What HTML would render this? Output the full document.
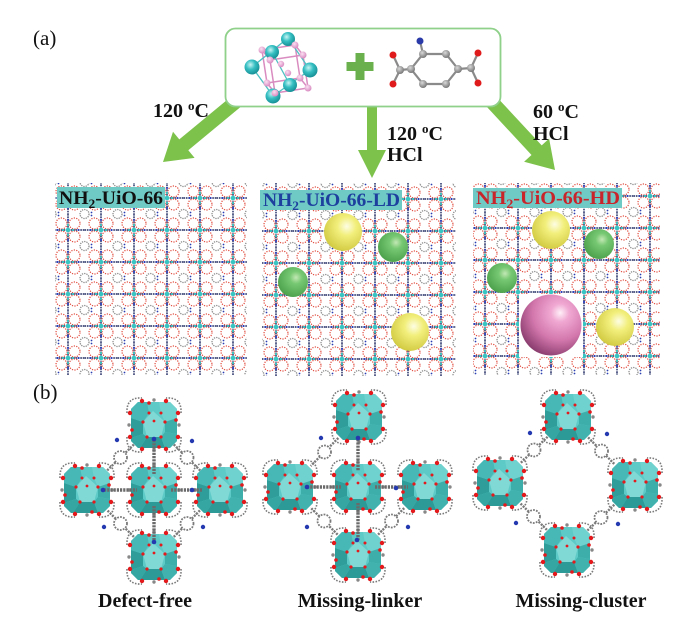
<!DOCTYPE html>
<html><head><meta charset="utf-8"><style>html,body{margin:0;padding:0;background:#fff}svg{display:block}</style></head>
<body>
<svg width="700" height="626" viewBox="0 0 700 626" xmlns="http://www.w3.org/2000/svg" font-family="'Liberation Serif', serif">
<defs>
 <pattern id="lat" width="33" height="32" patternUnits="userSpaceOnUse">
   <g fill="none" stroke="#8c8c8c" stroke-width="1.3" stroke-dasharray="1.3 1">
     <circle cx="0" cy="0" r="4.5"/><circle cx="33" cy="0" r="4.5"/><circle cx="0" cy="32" r="4.5"/><circle cx="33" cy="32" r="4.5"/>
   </g>
   <g fill="#2b3fb0">
     <circle cx="7" cy="1.5" r="0.9"/><circle cx="7" cy="30.5" r="0.9"/><circle cx="8" cy="-1.5" r="0.9"/><circle cx="8" cy="33.5" r="0.9"/>
   </g>
   <g fill="none" stroke="#e0473a" stroke-width="1.2" stroke-dasharray="1.2 1.3">
     <circle cx="10" cy="9.5" r="5.5"/><circle cx="23" cy="9.5" r="5.5"/><circle cx="10" cy="22.5" r="5.5"/><circle cx="23" cy="22.5" r="5.5"/>
   </g>
   <g stroke="#414a7a" stroke-width="1.7" stroke-dasharray="1.6 0.8">
     <line x1="0" y1="16" x2="33" y2="16"/><line x1="16.5" y1="0" x2="16.5" y2="32"/>
   </g>
   <g fill="#2438c0"><circle cx="6" cy="16" r="1"/><circle cx="27" cy="16" r="1"/><circle cx="16.5" cy="6" r="1"/><circle cx="16.5" cy="26" r="1"/></g>
   <circle cx="16.5" cy="16" r="2.3" fill="#38c6c2"/>
   <g fill="#38c6c2"><circle cx="11.5" cy="16" r="1.1"/><circle cx="21.5" cy="16" r="1.1"/><circle cx="16.5" cy="11" r="1.1"/><circle cx="16.5" cy="21" r="1.1"/></g>
 </pattern>
 <radialGradient id="gy" cx="0.6" cy="0.35" r="0.7"><stop offset="0" stop-color="#fdfde4"/><stop offset="0.35" stop-color="#f2ef7c"/><stop offset="1" stop-color="#cfc83e"/></radialGradient>
 <radialGradient id="gg" cx="0.6" cy="0.35" r="0.7"><stop offset="0" stop-color="#c2e8b4"/><stop offset="0.3" stop-color="#77c872"/><stop offset="1" stop-color="#4a9f4a"/></radialGradient>
 <radialGradient id="gp" cx="0.65" cy="0.3" r="0.75"><stop offset="0" stop-color="#fff0f8"/><stop offset="0.2" stop-color="#f0a8d2"/><stop offset="0.6" stop-color="#d377ad"/><stop offset="1" stop-color="#8a3c6e"/></radialGradient>
 <radialGradient id="gc" cx="0.4" cy="0.35" r="0.7"><stop offset="0" stop-color="#c8f4f4"/><stop offset="0.45" stop-color="#35bfc2"/><stop offset="1" stop-color="#138a90"/></radialGradient>
 <radialGradient id="gpk" cx="0.4" cy="0.35" r="0.7"><stop offset="0" stop-color="#fbe0f2"/><stop offset="1" stop-color="#d584bd"/></radialGradient>
 <radialGradient id="ggr" cx="0.4" cy="0.35" r="0.7"><stop offset="0" stop-color="#d8d8d8"/><stop offset="1" stop-color="#707070"/></radialGradient>
 <g id="cl">
  <path d="M-16,-23H16L23,-16V16L16,23H-16L-23,16V-16Z" fill="#5ecac7"/>
  <path d="M5,-23L16,-23L23,-16L23,-7L11,-3L7,-12Z" fill="#70d2ce"/>
  <path d="M-23,-7L-11,-3L-11,9L-23,13Z" fill="#2f9e9b"/>
  <path d="M-23,13L-11,9L-7,12L-14,23L-16,23L-23,16Z" fill="#36a6a3"/>
  <path d="M-7,12L7,12L11,23L-14,23Z" fill="#2c9a97"/>
  <path d="M11,-3L23,-7L23,9L11,7Z" fill="#3eaeab"/>
  <path d="M-16,-23L-7,-23L-5,-12L-11,-3L-23,-7L-23,-16Z" fill="#47b8b5"/>
  <path d="M7,12L11,7L23,9L23,16L16,23L11,23Z" fill="#42b2af"/>
  <path d="M-1,-14L11,-3L7,12L-7,12L-11,-3Z" fill="#80d9d5"/>
  <g fill="none" stroke="#7a7a7a" stroke-width="1.6" stroke-dasharray="1.6 1.4">
   <path d="M-27,-12Q-28,-28 -12,-27"/><path d="M27,-12Q28,-28 12,-27"/><path d="M-27,12Q-28,28 -12,27"/><path d="M27,12Q28,28 12,27"/>
  </g>
  <g fill="#888"><circle cx="0" cy="-25" r="1.7"/><circle cx="0" cy="25" r="1.7"/><circle cx="-25" cy="0" r="1.7"/><circle cx="25" cy="0" r="1.7"/></g>
  <g fill="#e3191c">
   <circle cx="-12" cy="-24" r="2.2"/><circle cx="12" cy="-24" r="2.2"/><circle cx="-12" cy="24" r="2.2"/><circle cx="12" cy="24" r="2.2"/>
   <circle cx="-24" cy="-12" r="2.2"/><circle cx="-24" cy="12" r="2.2"/><circle cx="24" cy="-12" r="2.2"/><circle cx="24" cy="12" r="2.2"/>
   <circle cx="-5" cy="-22" r="1.8"/><circle cx="5" cy="22" r="1.8"/><circle cx="-22" cy="5" r="1.8"/><circle cx="22" cy="-5" r="1.8"/>
   <circle cx="-11" cy="-3" r="1.6"/><circle cx="11" cy="-3" r="1.6"/><circle cx="-7" cy="12" r="1.6"/><circle cx="7" cy="12" r="1.6"/>
   <circle cx="-5" cy="-12" r="1.5"/><circle cx="7" cy="-12" r="1.5"/><circle cx="0" cy="-4" r="1.4"/>
  </g>
 </g>
</defs>

<!-- (a) -->
<text x="33" y="45" font-size="21" fill="#111">(a)</text>

<!-- arrows -->
<g fill="#7dc24b">
 <polygon points="242.5,105.4 233.5,94.6 179.3,139.4 173,131.7 163,162 194.6,157.9 188.3,150.2"/>
 <polygon points="367,100 377,100 377,150 386,150 372,178 358,150 367,150"/>
 <polygon points="484.9,104.8 495.1,95.2 541.7,145.4 549.1,138.6 555,170 524.1,161.8 531.5,155"/>
</g>

<!-- top box -->
<rect x="225.5" y="28.5" width="275" height="78" rx="10" fill="#fff" stroke="#8fd08a" stroke-width="1.8"/>

<!-- Zr cluster molecule -->
<g stroke="#d98cc0" stroke-width="1.5" fill="none">
 <polygon points="262,50 295,45 300,78 267,83"/>
 <polygon points="270,60 303,55 308,88 275,93"/>
 <line x1="262" y1="50" x2="270" y2="60"/><line x1="295" y1="45" x2="303" y2="55"/><line x1="300" y1="78" x2="308" y2="88"/><line x1="267" y1="83" x2="275" y2="93"/>
</g>
<g stroke="#4cc0c2" stroke-width="1.3">
 <line x1="288" y1="38" x2="252" y2="67"/><line x1="288" y1="38" x2="310" y2="70"/><line x1="252" y1="67" x2="273" y2="96"/><line x1="310" y1="70" x2="273" y2="96"/><line x1="272" y1="52" x2="290" y2="85"/>
</g>
<g fill="url(#gc)">
 <circle cx="288" cy="39" r="7"/><circle cx="272" cy="52" r="7"/><circle cx="252" cy="67" r="7.5"/><circle cx="310" cy="70" r="7.5"/><circle cx="290" cy="85" r="7"/><circle cx="273" cy="96" r="7.5"/>
</g>
<g fill="url(#gpk)">
 <circle cx="262" cy="50" r="3.5"/><circle cx="295" cy="45" r="3.5"/><circle cx="300" cy="78" r="3.5"/><circle cx="267" cy="83" r="3.5"/>
 <circle cx="270" cy="60" r="3.5"/><circle cx="303" cy="55" r="3.5"/><circle cx="308" cy="88" r="3.5"/><circle cx="275" cy="93" r="3.5"/>
 <circle cx="281" cy="64" r="3.2"/><circle cx="288" cy="73" r="3.2"/>
</g>

<!-- plus -->
<g fill="#6ab04c"><rect x="355.5" y="53" width="9" height="27"/><rect x="346.5" y="62" width="27" height="9"/></g>

<!-- linker molecule -->
<g stroke="#8a8a8a" stroke-width="2.2" fill="none">
 <polygon points="423,54 446,54 458,69 446,84 423,84 411,69"/>
 <line x1="411" y1="69" x2="400" y2="70"/><line x1="400" y1="70" x2="393" y2="55"/><line x1="400" y1="70" x2="393" y2="84"/>
 <line x1="458" y1="69" x2="471" y2="68"/><line x1="471" y1="68" x2="478" y2="53"/><line x1="471" y1="68" x2="478" y2="83"/>
 <line x1="423" y1="54" x2="420" y2="41"/>
</g>
<g fill="url(#ggr)">
 <circle cx="423" cy="54" r="4"/><circle cx="446" cy="54" r="4"/><circle cx="458" cy="69" r="4"/><circle cx="446" cy="84" r="4"/><circle cx="423" cy="84" r="4"/><circle cx="411" cy="69" r="4"/>
 <circle cx="400" cy="70" r="4"/><circle cx="471" cy="68" r="4"/>
</g>
<g fill="#e01b1b"><circle cx="393" cy="55" r="3.5"/><circle cx="393" cy="84" r="3.5"/><circle cx="478" cy="53" r="3.5"/><circle cx="478" cy="83" r="3.5"/></g>
<circle cx="420" cy="41" r="3.5" fill="#2a3aa8"/>

<!-- arrow labels -->
<g font-weight="bold" font-size="20" fill="#111">
 <text x="153" y="117">120 <tspan font-size="13" dy="-7">o</tspan><tspan dy="7">C</tspan></text>
 <text x="387" y="140">120 <tspan font-size="13" dy="-7">o</tspan><tspan dy="7">C</tspan></text>
 <text x="387" y="161">HCl</text>
 <text x="533" y="118">60 <tspan font-size="13" dy="-7">o</tspan><tspan dy="7">C</tspan></text>
 <text x="533" y="140">HCl</text>
</g>

<!-- lattice panels -->
<g transform="translate(51.5,182)"><rect x="3.5" y="1" width="192" height="192" fill="url(#lat)"/></g>
<g transform="translate(259.5,183)"><rect x="2.5" y="0" width="194" height="193" fill="url(#lat)"/></g>
<g transform="translate(468.5,180)"><rect x="4.5" y="3" width="187" height="192" fill="url(#lat)"/></g>

<!-- spheres panel 2 -->
<circle cx="343" cy="232" r="19" fill="url(#gy)"/>
<circle cx="393" cy="247" r="15" fill="url(#gg)"/>
<circle cx="293" cy="282" r="15" fill="url(#gg)"/>
<circle cx="410" cy="332" r="19" fill="url(#gy)"/>
<!-- spheres panel 3 -->
<circle cx="551" cy="230" r="19" fill="url(#gy)"/>
<circle cx="599" cy="244" r="15" fill="url(#gg)"/>
<circle cx="502" cy="278" r="15" fill="url(#gg)"/>
<rect x="519" y="294" width="64" height="63" fill="#fff"/>
<circle cx="551" cy="325" r="30.5" fill="url(#gp)"/>
<circle cx="615" cy="327" r="19" fill="url(#gy)"/>

<!-- panel labels -->
<rect x="57" y="187" width="108" height="21" fill="#6fcac6"/>
<rect x="260" y="190" width="142" height="20" fill="#6fcac6"/>
<rect x="473" y="188" width="149" height="20" fill="#6fcac6"/>
<g font-weight="bold" font-size="19">
 <text x="59" y="204" fill="#111" textLength="104" lengthAdjust="spacingAndGlyphs">NH<tspan font-size="13" dy="4">2</tspan><tspan dy="-4">-UiO-66</tspan></text>
 <text x="263" y="206" fill="#1d3f9e" textLength="137" lengthAdjust="spacingAndGlyphs">NH<tspan font-size="13" dy="4">2</tspan><tspan dy="-4">-UiO-66-LD</tspan></text>
 <text x="476" y="204" fill="#c8242a" textLength="144" lengthAdjust="spacingAndGlyphs">NH<tspan font-size="13" dy="4">2</tspan><tspan dy="-4">-UiO-66-HD</tspan></text>
</g>

<!-- (b) -->
<text x="33" y="399" font-size="21" fill="#111">(b)</text>

<!-- diagonal linkers -->
<g stroke="#7a7a7a" stroke-width="2.4" stroke-dasharray="2 1.2" fill="none">
 <line x1="133.9" y1="444.5" x2="107.1" y2="470.5"/>
 <line x1="173.8" y1="444.5" x2="200.2" y2="470.5"/>
 <line x1="133.9" y1="536.9" x2="107.1" y2="510.1"/>
 <line x1="173.8" y1="536.9" x2="200.2" y2="510.1"/>
 <line x1="338.3" y1="438" x2="310.7" y2="466"/>
 <line x1="337.6" y1="534.6" x2="310.4" y2="507.4"/>
 <line x1="378.1" y1="534.6" x2="404.9" y2="507.4"/>
 <line x1="547.6" y1="436.8" x2="520.4" y2="463.2"/>
 <line x1="588.1" y1="437.4" x2="614.9" y2="464.6"/>
 <line x1="546.9" y1="529.9" x2="520.1" y2="503.1"/>
 <line x1="587.4" y1="530.5" x2="614.6" y2="504.5"/>
</g>
<g fill="#fff" stroke="#7a7a7a" stroke-width="1.8" stroke-dasharray="1.8 1.2">
 <circle cx="120.5" cy="457.5" r="6.5"/><circle cx="187" cy="457.5" r="6.5"/><circle cx="120.5" cy="523.5" r="6.5"/><circle cx="187" cy="523.5" r="6.5"/>
 <circle cx="324.5" cy="452" r="6.5"/><circle cx="324" cy="521" r="6.5"/><circle cx="391.5" cy="521" r="6.5"/>
 <circle cx="534" cy="450" r="6.5"/><circle cx="601.5" cy="451" r="6.5"/><circle cx="533.5" cy="516.5" r="6.5"/><circle cx="601" cy="517.5" r="6.5"/>
</g>
<g fill="#2438b0">
 <circle cx="117" cy="440" r="2.2"/><circle cx="192" cy="441" r="2.2"/><circle cx="104" cy="527" r="2.2"/><circle cx="203" cy="527" r="2.2"/>
 <circle cx="321" cy="438" r="2.2"/><circle cx="307" cy="527" r="2.2"/><circle cx="408" cy="527" r="2.2"/>
 <circle cx="530" cy="433" r="2.2"/><circle cx="607" cy="434" r="2.2"/><circle cx="516" cy="523" r="2.2"/><circle cx="618" cy="524" r="2.2"/>
</g>

<!-- clusters -->
<use href="#cl" x="154" y="425"/><use href="#cl" x="87" y="490"/><use href="#cl" x="154" y="490"/><use href="#cl" x="220" y="490"/><use href="#cl" x="154" y="557"/>
<use href="#cl" x="359" y="417"/><use href="#cl" x="290" y="487"/><use href="#cl" x="358" y="487"/><use href="#cl" x="425" y="487"/><use href="#cl" x="358" y="555"/>
<use href="#cl" x="568" y="417"/><use href="#cl" x="500" y="483"/><use href="#cl" x="635" y="485"/><use href="#cl" x="567" y="550"/>

<!-- straight linkers -->
<g stroke="#6a6a6a" stroke-width="3.4" stroke-dasharray="2.2 1">
 <line x1="104" y1="490" x2="137" y2="490"/><line x1="171" y1="490" x2="203" y2="490"/>
 <line x1="154" y1="440" x2="154" y2="474"/><line x1="154" y1="506" x2="154" y2="541"/>
 <line x1="307" y1="487" x2="341" y2="487"/><line x1="375" y1="487" x2="408" y2="487"/>
 <line x1="358" y1="436" x2="358" y2="471"/><line x1="358" y1="503" x2="358" y2="540"/>
</g>
<g fill="#2438b0">
 <circle cx="103" cy="490" r="2.3"/><circle cx="192" cy="490" r="2.3"/><circle cx="154" cy="439" r="2.3"/><circle cx="154" cy="542" r="2.3"/>
 <circle cx="307" cy="487" r="2.3"/><circle cx="396" cy="488" r="2.3"/><circle cx="358" cy="438" r="2.3"/><circle cx="357" cy="540" r="2.3"/>
</g>

<!-- bottom labels -->
<g font-weight="bold" font-size="20" fill="#111" text-anchor="middle">
 <text x="145" y="607">Defect-free</text>
 <text x="360" y="607">Missing-linker</text>
 <text x="581" y="607">Missing-cluster</text>
</g>
</svg>
</body></html>
